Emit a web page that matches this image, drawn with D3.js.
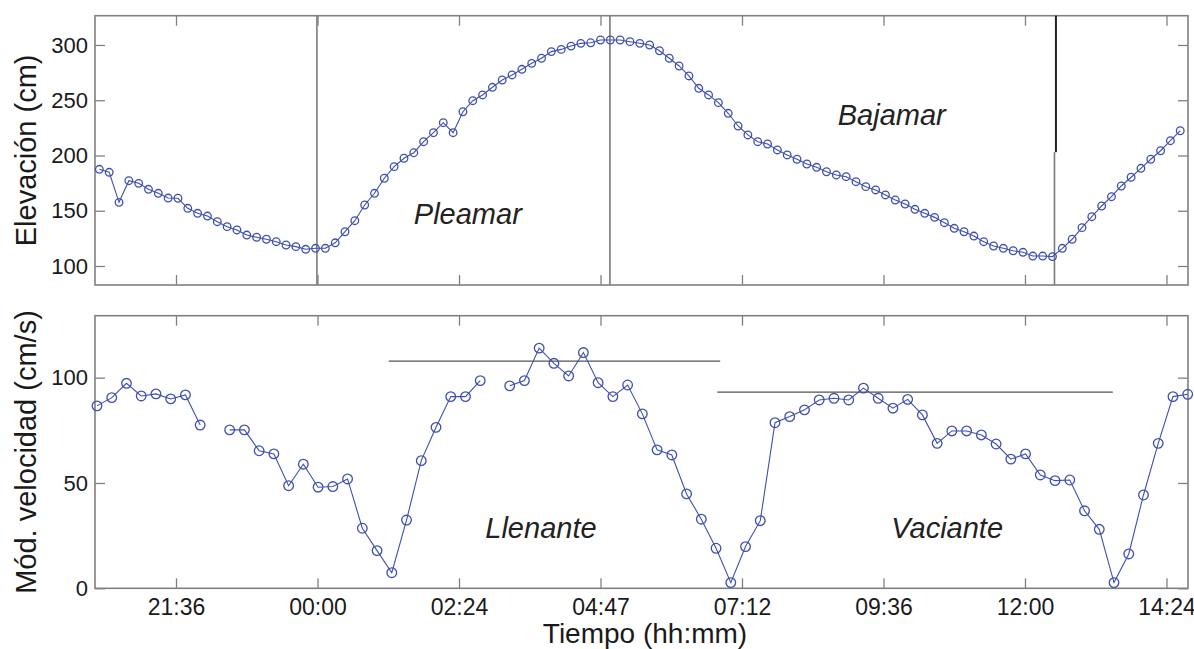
<!DOCTYPE html>
<html><head><meta charset="utf-8">
<script src="https://cdn.jsdelivr.net/npm/d3@7"></script>
<style>
body{margin:0;background:#fff}
text{font-family:"Liberation Sans",Arial,Helvetica,sans-serif}
</style>
</head><body>
<svg id="c" width="1194" height="649"></svg>
<script>
// ---------------- data ----------------
// time in hours relative to 00:00
const timeTicks = [-2.4, 0, 2.4, 4.8, 7.2, 9.6, 12, 14.4];
const timeTickLabels = ["21:36", "00:00", "02:24", "04:47", "07:12", "09:36", "12:00", "14:24"];

const elevStart = -3.70;      // h, first elevation sample
const elevStepMin = 10;       // min between elevation samples
const elevation = [
  187.5,184.8,157.6,177.2,174.8,169.4,165.8,161.5,161.3,152.2,
  147.7,145.2,140.1,135.6,132.6,128.0,126.0,124.2,122.0,119.0,
  117.5,115.1,116.0,116.0,121.0,131.0,141.0,155.2,165.8,179.4,
  189.9,197.5,202.5,212.5,220.6,229.7,220.6,239.6,249.6,254.8,
  261.7,268.3,272.9,278.0,283.4,288.0,294.0,296.0,299.0,301.5,
  302.0,304.5,304.5,304.5,303.0,301.5,300.0,294.8,288.0,281.0,
  272.0,260.8,254.8,247.8,238.2,226.7,218.6,212.5,210.4,205.0,
  200.5,196.6,192.3,189.3,185.3,182.4,180.8,176.3,171.8,168.8,
  164.3,159.7,156.1,151.3,147.7,144.0,139.2,134.1,131.0,127.1,
  122.0,118.1,116.0,113.8,112.4,109.0,109.0,108.5,116.0,124.2,
  134.7,144.6,154.3,162.7,172.4,180.3,188.4,196.6,204.3,213.4,
  222.4
];

const velStart = -3.74;       // h, first velocity sample
const velStepMin = 15;        // min between velocity samples
const velocity = [
  86.6,90.5,97.3,91.3,92.3,89.9,91.8,77.5,null,75.2,
  75.2,65.3,63.8,48.7,58.9,48.0,48.3,51.9,28.5,17.9,
  7.4,32.4,60.6,76.4,91.0,91.0,98.6,null,96.1,98.6,
  114.0,106.8,100.8,111.9,97.6,91.0,96.5,82.8,65.7,63.3,
  44.8,32.8,19.0,2.7,19.8,32.1,78.6,81.5,84.7,89.4,
  90.2,89.4,95.0,90.2,85.5,89.7,82.3,68.8,74.7,74.7,
  72.8,68.5,61.3,63.8,53.8,51.1,51.4,36.8,28.0,2.7,
  16.3,44.3,68.8,91.0,92.1
];

const elevTicks = [100, 150, 200, 250, 300];
const velTicks = [0, 50, 100];

// tide phase limits (h)
const phaseLines = [-0.01, 4.96, 12.50];
const phaseLabels = ["Pleamar", "Bajamar"];
const phaseLabelPos = [[2.55, 138], [9.74, 227.6]];

// mean flow speeds per phase
const flowLabels = ["Llenante", "Vaciante"];
const flowFrom = [1.21, 6.78];
const flowTo = [6.83, 13.49];
const flowMean = [107.8, 93.1];
const flowLabelPos = [[3.79, 23.7], [10.68, 23.7]];

// ---------------- chart ----------------
const svg = d3.select("#c");
const L = 95, R = 1188;
const top1 = 15.7, bot1 = 285, top2 = 315.7, bot2 = 588.3;
const blue = "#3f4fb0";
const frameCol = "#808080";

const x = d3.scaleLinear().domain([-3.774, 14.765]).range([L, R]);
const yE = d3.scaleLinear().domain([82.8, 326.5]).range([bot1, top1]);
const yV = d3.scaleLinear().domain([0, 129.4]).range([bot2, top2]);

const elevData = elevation.map((v, i) => ({t: elevStart + i * elevStepMin / 60, v}));
const velData = velocity.map((v, i) => ({t: velStart + i * velStepMin / 60, v}));

function frame(yS, ticks, yTop, yBot, showX) {
  const g = svg.append("g");
  const styleAxis = sel => {
    sel.select(".domain").remove();
    sel.selectAll(".tick line").attr("stroke", frameCol).attr("stroke-width", 1.3);
  };
  const ax = g.append("g").attr("transform", `translate(0,${yBot})`)
    .call(d3.axisBottom(x).tickValues(timeTicks).tickSizeInner(-10).tickSizeOuter(0)
      .tickPadding(10).tickFormat((d, i) => showX ? timeTickLabels[i] : ""));
  styleAxis(ax);
  ax.selectAll("text").attr("font-size", 23).attr("fill", "#1a1a1a");
  const at = g.append("g").attr("transform", `translate(0,${yTop})`)
    .call(d3.axisTop(x).tickValues(timeTicks).tickSizeInner(-10).tickSizeOuter(0).tickFormat(""));
  styleAxis(at);
  const ay = g.append("g").attr("transform", `translate(${L},0)`)
    .call(d3.axisLeft(yS).tickValues(ticks).tickSizeInner(-10).tickSizeOuter(0).tickPadding(7));
  styleAxis(ay);
  ay.selectAll("text").attr("font-size", 22).attr("fill", "#1a1a1a");
  const ar = g.append("g").attr("transform", `translate(${R},0)`)
    .call(d3.axisRight(yS).tickValues(ticks).tickSizeInner(-10).tickSizeOuter(0).tickFormat(""));
  styleAxis(ar);
  g.append("rect").attr("x", L).attr("y", yTop).attr("width", R - L).attr("height", yBot - yTop)
    .attr("fill", "none").attr("stroke", frameCol).attr("stroke-width", 1.6);
}

frame(yE, elevTicks, top1, bot1, false);
frame(yV, velTicks, top2, bot2, true);

// ---- top panel: phase lines ----
phaseLines.forEach((t, i) => {
  if (i < 2) {
    svg.append("line").attr("x1", x(t)).attr("x2", x(t)).attr("y1", top1).attr("y2", bot1)
      .attr("stroke", "#7a7a7a").attr("stroke-width", 1.6);
  } else {
    svg.append("line").attr("x1", x(t)).attr("x2", x(t)).attr("y1", yE(203)).attr("y2", bot1)
      .attr("stroke", "#7a7a7a").attr("stroke-width", 1.6);
    svg.append("line").attr("x1", x(t + 0.025)).attr("x2", x(t + 0.025)).attr("y1", top1).attr("y2", yE(203))
      .attr("stroke", "#222").attr("stroke-width", 2);
  }
});

// ---- top panel: elevation ----
svg.append("path").datum(elevData)
  .attr("d", d3.line().x(d => x(d.t)).y(d => yE(d.v)))
  .attr("fill", "none").attr("stroke", blue).attr("stroke-width", 1.1);
svg.append("g").selectAll("circle").data(elevData).join("circle")
  .attr("cx", d => x(d.t)).attr("cy", d => yE(d.v)).attr("r", 3.8)
  .attr("fill", "none").attr("stroke", blue).attr("stroke-width", 1.3);

phaseLabels.forEach((s, i) => {
  svg.append("text").attr("x", x(phaseLabelPos[i][0])).attr("y", yE(phaseLabelPos[i][1]))
    .attr("text-anchor", "middle").attr("font-size", 29).attr("font-style", "italic")
    .attr("fill", "#222").text(s);
});

// ---- bottom panel: mean flow lines ----
flowLabels.forEach((s, i) => {
  svg.append("line").attr("x1", x(flowFrom[i])).attr("x2", x(flowTo[i]))
    .attr("y1", yV(flowMean[i])).attr("y2", yV(flowMean[i]))
    .attr("stroke", "#555").attr("stroke-width", 1.3);
});

// ---- bottom panel: velocity ----
svg.append("path").datum(velData)
  .attr("d", d3.line().defined(d => d.v != null).x(d => x(d.t)).y(d => yV(d.v)))
  .attr("fill", "none").attr("stroke", blue).attr("stroke-width", 1.1);
svg.append("g").selectAll("circle").data(velData.filter(d => d.v != null)).join("circle")
  .attr("cx", d => x(d.t)).attr("cy", d => yV(d.v)).attr("r", 4.8)
  .attr("fill", "none").attr("stroke", blue).attr("stroke-width", 1.3);

flowLabels.forEach((s, i) => {
  svg.append("text").attr("x", x(flowLabelPos[i][0])).attr("y", yV(flowLabelPos[i][1]))
    .attr("text-anchor", "middle").attr("font-size", 29).attr("font-style", "italic")
    .attr("fill", "#222").text(s);
});

// ---- axis titles ----
svg.append("text").attr("transform", `translate(36,${(top1 + bot1) / 2}) rotate(-90)`)
  .attr("text-anchor", "middle").attr("font-size", 29).attr("fill", "#1a1a1a").text("Elevación (cm)");
svg.append("text").attr("transform", `translate(36,${(top2 + bot2) / 2}) rotate(-90)`)
  .attr("text-anchor", "middle").attr("font-size", 29).attr("fill", "#1a1a1a").text("Mód. velocidad (cm/s)");
svg.append("text").attr("x", 645).attr("y", 643)
  .attr("text-anchor", "middle").attr("font-size", 28).attr("fill", "#1a1a1a").text("Tiempo (hh:mm)");
</script>
</body></html>
